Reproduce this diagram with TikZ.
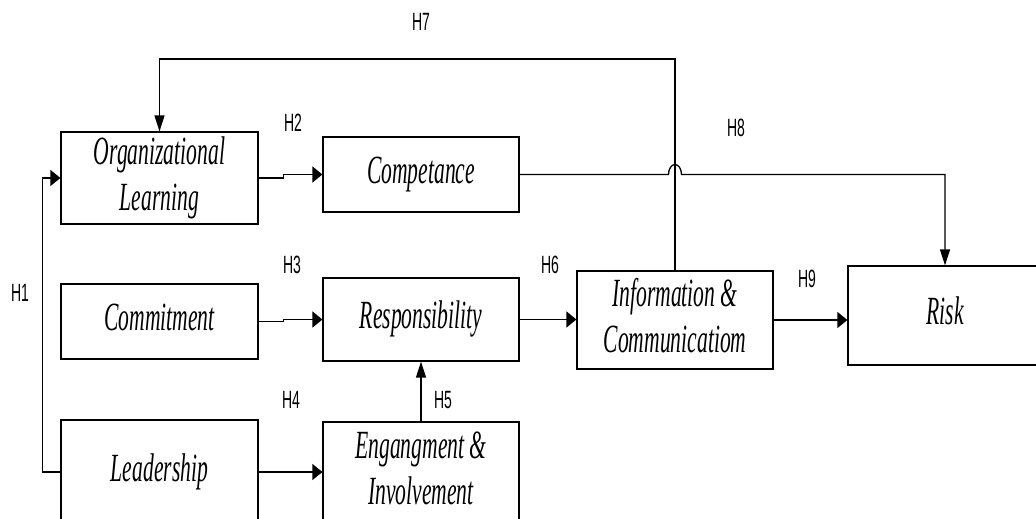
\documentclass[tikz,border=0pt]{standalone}
\usepackage{fontspec}
\setmainfont{Liberation Serif}
\newfontfamily\labfont{Liberation Sans}
\usetikzlibrary{arrows.meta}

% condensed italic box text, one or more centred lines
\newcommand{\boxtxt}[1]{\scalebox{0.54}[1]{\renewcommand\arraystretch{1}%
  \begin{tabular}{@{}c@{}}#1\end{tabular}}}
% condensed sans hypothesis label
\newcommand{\hlab}[1]{\scalebox{0.56}[1]{#1}}

\begin{document}
\begin{tikzpicture}[x=1pt,y=-1pt,
  construct/.style={draw=black,line width=1.2pt,rectangle,inner sep=0pt,
    font=\fontsize{40}{46}\selectfont\itshape},
  hyp/.style={inner sep=0pt,font=\labfont\fontsize{25}{25}\selectfont},
  link/.style={line width=1.3pt},
  harr/.style={link,-{Triangle[length=10pt,width=16pt]}},
  varr/.style={link,-{Triangle[length=16pt,width=10pt]}}]
\useasboundingbox (0,0) rectangle (1036,519);
\clip (0,0) rectangle (1036,519);

% constructs
\node[construct,minimum width=197pt,minimum height=90pt] (org) at (159.5,178)
  {\boxtxt{Organizational\\Learning}};
\node[construct,minimum width=196pt,minimum height=75pt] (comp) at (421,174.5)
  {\boxtxt{Competance}};
\node[construct,minimum width=197pt,minimum height=75pt] (commit) at (159.5,321.5)
  {\boxtxt{Commitment}};
\node[construct,minimum width=196pt,minimum height=83pt] (resp) at (421,319.5)
  {\boxtxt{Responsibility}};
\node[construct,minimum width=196pt,minimum height=98pt] (info) at (675,320)
  {\boxtxt{Information \&\\Communicatiom}};
\node[construct,minimum width=194pt,minimum height=99pt] (risk) at (945,315.5)
  {\boxtxt{Risk}};
\node[construct,minimum width=197pt,minimum height=104pt] (lead) at (159.5,472)
  {\boxtxt{Leadership}};
\node[construct,minimum width=196pt,minimum height=100pt] (eng) at (421,472)
  {\boxtxt{Engangment \&\\Involvement}};

% hypothesis labels
\node[hyp] (h1) at (20,293) {\hlab{H1}};
\node[hyp] (h2) at (293,123) {\hlab{H2}};
\node[hyp] (h3) at (292,265) {\hlab{H3}};
\node[hyp] (h4) at (291,400) {\hlab{H4}};
\node[hyp] (h5) at (443,400) {\hlab{H5}};
\node[hyp] (h6) at (550,265) {\hlab{H6}};
\node[hyp] (h7) at (421,22) {\hlab{H7}};
\node[hyp] (h8) at (736,128) {\hlab{H8}};
\node[hyp] (h9) at (807,279) {\hlab{H9}};

% H1: leadership -> organizational learning
\draw[harr] (lead.west) -- ++(-18,0) |- (org.west);
% H2, H3, H4: left column -> middle column
\draw[harr] (org.east) -- ++(25,0) |- (comp.west);
\draw[harr] (commit.east) -- ++(25,0) |- (resp.west);
\draw[harr] (lead.east) -- ++(25,0) |- (eng.west);
% H5
\draw[varr] (eng.north) -- (resp.south);
% H6, H9
\draw[harr] (resp.east) -- (resp.east -| info.west);
\draw[harr] (info.east) -- (info.east -| risk.west);
% H7: information -> organizational learning, over the top
\coordinate (top) at (0,59);
\draw[varr] (info.north) -- (info.north |- top) -- (org.north |- top) -- (org.north);
% H8: competance -> risk, hopping over the H7 line
\coordinate (hop) at (info.north |- comp.east);
\draw[varr] (comp.east) -- ([xshift=-6.5pt]hop)
  arc[start angle=180,end angle=0,x radius=6.5pt,y radius=10pt]
  -- (hop -| risk.north) -- (risk.north);
\end{tikzpicture}
\end{document}
